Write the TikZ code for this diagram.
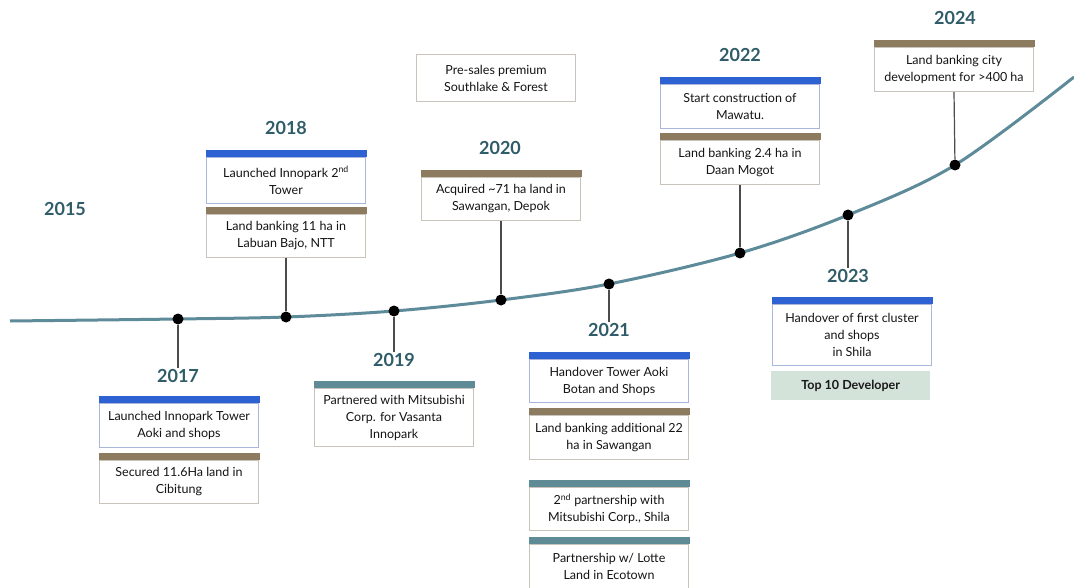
\documentclass[tikz,border=0pt]{standalone}
\usepackage{fontspec}
\setmainfont{Lato}
\definecolor{yearc}{HTML}{2F5C68}
\definecolor{barblue}{HTML}{2E62D2}
\definecolor{barbrown}{HTML}{8C7B5E}
\definecolor{barsteel}{HTML}{5F8B97}
\definecolor{edgeblue}{HTML}{A9B6D9}
\definecolor{edgegray}{HTML}{C9C4BB}
\definecolor{curvec}{HTML}{5E8B99}
\definecolor{topfill}{HTML}{D4E3DA}
\tikzset{
  year/.style={font=\fontsize{18}{20}\selectfont\bfseries, text=yearc, inner sep=1pt},
  boxtext/.style={draw=#1, line width=1pt, fill=white, minimum width=159pt, align=center,
    inner sep=2pt, font=\fontsize{12.5}{17}\selectfont, text=black!92},
  dot/.style={circle, fill=black, inner sep=0pt, minimum size=11pt},
  stem/.style={draw=black!70, line width=1.2pt},
  curve/.style={draw=curvec, line width=3pt},
}
\newcommand\tlbox[7]{%
  \node[boxtext=#6, anchor=north west, minimum height=#4pt-7pt] (#1) at (#2,#3+7) {#7};
  \fill[#5] ([xshift=-0.5pt,yshift=7pt]#1.north west) rectangle ([xshift=0.5pt]#1.north east);
}
\begin{document}
\begin{tikzpicture}[x=1pt,y=-1pt]
\useasboundingbox[fill=white] (0,0) rectangle (1074,588);
% curve
\draw[curve] plot[smooth, tension=0.55] coordinates {(10,321) (178,319) (286,317) (394,311) (501,300) (609,284) (740,253) (848,215) (955,165) (1074,77)};
% dots
\node[dot] (d17) at (178,319) {};
\node[dot] (d18) at (286,317) {};
\node[dot] (d19) at (394,311) {};
\node[dot] (d20) at (501,300) {};
\node[dot] (d21) at (609,284) {};
\node[dot] (d22) at (740,253) {};
\node[dot] (d23) at (848,215) {};
\node[dot] (d24) at (955,165) {};
% years
\node[year] (y15) at (65,209) {2015};
\node[year] (y17) at (178,376) {2017};
\node[year] (y18) at (286,128) {2018};
\node[year] (y19) at (394,360) {2019};
\node[year] (y20) at (500,148) {2020};
\node[year] (y21) at (609,330) {2021};
\node[year] (y22) at (740,55) {2022};
\node[year] (y23) at (848,276) {2023};
\node[year] (y24) at (955,18) {2024};
% boxes
\tlbox{b17a}{99}{396}{51}{barblue}{edgeblue}{Launched Innopark Tower\\Aoki and shops}
\tlbox{b17b}{99}{453}{50}{barbrown}{edgegray}{Secured 11.6Ha land in\\Cibitung}
\tlbox{b18a}{206}{150}{53}{barblue}{edgeblue}{Launched Innopark 2\textsuperscript{nd}\\Tower}
\tlbox{b18b}{206}{207}{50}{barbrown}{edgegray}{Land banking 11 ha in\\Labuan Bajo, NTT}
\tlbox{b19}{314}{381}{65}{barsteel}{edgegray}{Partnered with Mitsubishi\\Corp. for Vasanta\\Innopark}
\node[boxtext=edgegray, anchor=north west, minimum height=47pt] (bpre) at (416,54) {Pre-sales premium\\Southlake \& Forest};
\tlbox{b20}{421}{170}{50}{barbrown}{edgegray}{Acquired \textasciitilde71 ha land in\\Sawangan, Depok}
\tlbox{b21a}{529}{352}{50}{barblue}{edgeblue}{Handover Tower Aoki\\Botan and Shops}
\tlbox{b21b}{529}{408}{51}{barbrown}{edgegray}{Land banking additional 22\\ha in Sawangan}
\tlbox{b21c}{529}{480}{50}{barsteel}{edgegray}{2\textsuperscript{nd} partnership with\\Mitsubishi Corp., Shila}
\tlbox{b21d}{529}{537}{51}{barsteel}{edgegray}{Partnership w/ Lotte\\Land in Ecotown}
\tlbox{b22a}{660}{77}{51}{barblue}{edgeblue}{Start construction of\\Mawatu.}
\tlbox{b22b}{660}{133}{51}{barbrown}{edgegray}{Land banking 2.4 ha in\\Daan Mogot}
\tlbox{b23}{772}{297}{68}{barblue}{edgeblue}{Handover of first cluster\\and shops\\in Shila}
\node[fill=topfill, minimum width=159pt, minimum height=29pt, anchor=north west,
  font=\fontsize{12.5}{15}\selectfont\bfseries, text=black!90] (top10) at (771,371) {Top 10 Developer};
\tlbox{b24}{874}{40}{51}{barbrown}{edgegray}{Land banking city\\development for >400 ha}
% stems
\draw[stem] (d17) -- (y17.north);
\draw[stem] (d18) -- (b18b.south);
\draw[stem] (d19) -- (y19.north);
\draw[stem] (d20) -- (b20.south);
\draw[stem] (d21) -- (y21.north);
\draw[stem] (d22) -- (b22b.south);
\draw[stem] (d23) -- (y23.north);
\draw[stem] (d24) -- (b24.south);
\end{tikzpicture}
\end{document}
